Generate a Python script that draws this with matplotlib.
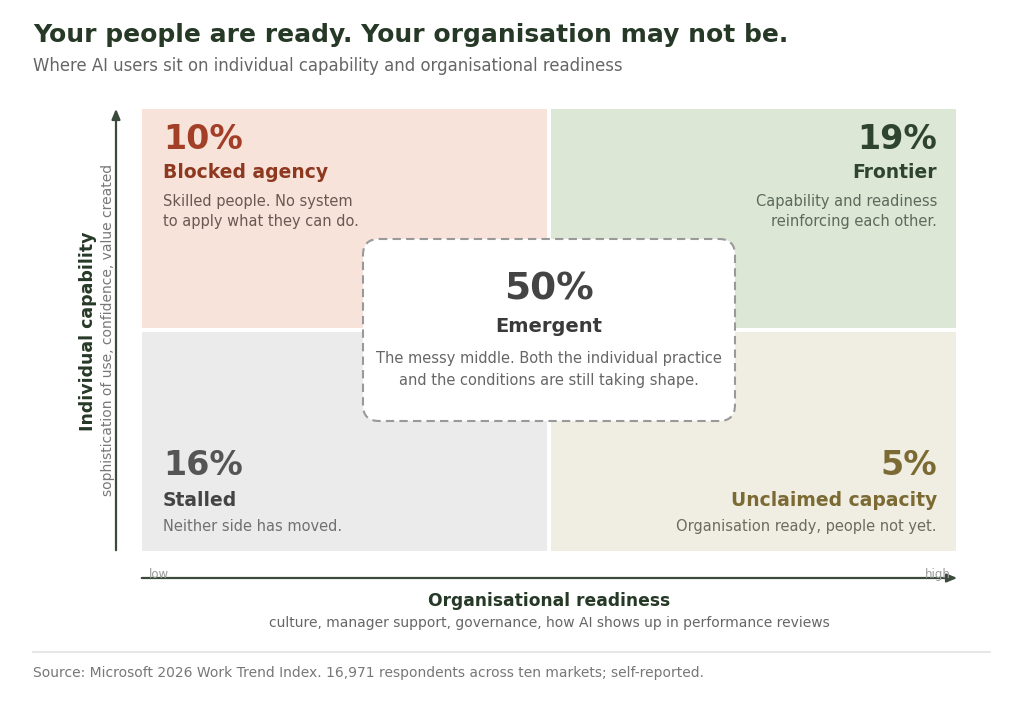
import matplotlib
matplotlib.use("Agg")
import matplotlib.pyplot as plt
from matplotlib.patches import Rectangle, FancyBboxPatch

plt.rcParams['font.family'] = ['DejaVu Sans']

# ---------------- data ----------------
title = "Your people are ready. Your organisation may not be."
subtitle = "Where AI users sit on individual capability and organisational readiness"
source = "Source: Microsoft 2026 Work Trend Index. 16,971 respondents across ten markets; self-reported."

quad_names = ["Blocked agency", "Frontier", "Stalled", "Unclaimed capacity"]
quad_pct = [10, 19, 16, 5]
quad_desc = [["Skilled people. No system", "to apply what they can do."],
             ["Capability and readiness", "reinforcing each other."],
             ["Neither side has moved."],
             ["Organisation ready, people not yet."]]
quad_col = [0, 1, 0, 1]   # organisational readiness: 0 low, 1 high
quad_row = [1, 1, 0, 0]   # individual capability: 0 low, 1 high
quad_fill = ["#F7E3DA", "#DCE7D6", "#EBEBEB", "#F0EDE2"]
quad_pct_color = ["#A23F26", "#2E4430", "#555555", "#7B6A33"]
quad_name_color = ["#8E3820", "#2E4430", "#444444", "#7B6A33"]
quad_desc_color = ["#6E5650", "#5C6A5C", "#707070", "#6E6A5E"]

center_name = "Emergent"
center_pct = 50
center_desc = ["The messy middle. Both the individual practice",
               "and the conditions are still taking shape."]

x_label = "Organisational readiness"
x_sub = "culture, manager support, governance, how AI shows up in performance reviews"
y_label = "Individual capability"
y_sub = "sophistication of use, confidence, value created"
x_ticks = ["low", "high"]

# ---------------- layout ----------------
W, H = 1024, 702
fig = plt.figure(figsize=(W / 100, H / 100), dpi=100)
ax = fig.add_axes([0, 0, 1, 1])
ax.set_xlim(0, W)
ax.set_ylim(H, 0)
ax.axis("off")

dark = "#263826"
axis_col = "#3C4A3C"

ax.text(33, 42, title, fontsize=18, fontweight="bold", color=dark, va="baseline", ha="left")
ax.text(33, 71, subtitle, fontsize=11.9, color="#666666", va="baseline", ha="left")

# quadrant grid
gx0, gx1, gy_top, gy_bot, gap = 142, 956, 109, 551, 4
cw = (gx1 - gx0 - gap) / 2
ch = (gy_bot - gy_top - gap) / 2

for name, pct, desc, c, r, fc, pc, nc, dc in zip(quad_names, quad_pct, quad_desc, quad_col, quad_row,
                                                  quad_fill, quad_pct_color, quad_name_color, quad_desc_color):
    x0 = gx0 + c * (cw + gap)
    y0 = gy_top + (1 - r) * (ch + gap)
    ax.add_patch(Rectangle((x0, y0), cw, ch, facecolor=fc, edgecolor="none", zorder=1))
    if c == 0:
        tx, ha = x0 + 21, "left"
    else:
        tx, ha = x0 + cw - 19, "right"
    if r == 1:
        yb, dn, dd = y0 + 40, 29, 57
    else:
        yb, dn, dd = y0 + 143, 31, 56
    ax.text(tx, yb, f"{pct}%", fontsize=24, fontweight="bold", color=pc, ha=ha, va="baseline", zorder=3)
    ax.text(tx, yb + dn, name, fontsize=13.5, fontweight="bold", color=nc, ha=ha, va="baseline", zorder=3)
    for i, line in enumerate(desc):
        ax.text(tx, yb + dd + 20 * i, line, fontsize=10.5, color=dc, ha=ha, va="baseline", zorder=3)

# center box
bx0, bx1, by0, by1 = 363, 735, 239, 421
box = FancyBboxPatch((bx0, by0), bx1 - bx0, by1 - by0,
                     boxstyle="round,pad=0,rounding_size=16",
                     facecolor="white", edgecolor="#999999", linewidth=1.5,
                     linestyle=(0, (4, 2.5)), zorder=4)
ax.add_patch(box)
cx = (bx0 + bx1) / 2
ax.text(cx, 300, f"{center_pct}%", fontsize=27, fontweight="bold", color="#444444",
        ha="center", va="baseline", zorder=5)
ax.text(cx, 332, center_name, fontsize=14, fontweight="bold", color="#3A3A3A",
        ha="center", va="baseline", zorder=5)
for i, line in enumerate(center_desc):
    ax.text(cx, 363 + 22 * i, line, fontsize=10.5, color="#666666", ha="center", va="baseline", zorder=5)

# axes arrows
ax.annotate("", xy=(116, 106), xytext=(116, 553),
            arrowprops=dict(arrowstyle="-|>,head_length=0.6,head_width=0.25", color=axis_col, lw=1.6))
ax.annotate("", xy=(960, 578), xytext=(139, 578),
            arrowprops=dict(arrowstyle="-|>,head_length=0.6,head_width=0.25", color=axis_col, lw=1.6))
ax.text(149, 578, x_ticks[0], fontsize=8.5, color="#9A9A9A", ha="left", va="baseline")
ax.text(951, 578, x_ticks[1], fontsize=8.5, color="#9A9A9A", ha="right", va="baseline")

ax.text(549, 606, x_label, fontsize=12.3, fontweight="bold", color=dark, ha="center", va="baseline")
ax.text(549, 627, x_sub, fontsize=10, color="#666666", ha="center", va="baseline")

ax.text(88, 331, y_label, fontsize=12.5, fontweight="bold", color=dark, ha="center", va="center", rotation=90)
ax.text(108, 330, y_sub, fontsize=10, color="#777777", ha="center", va="center", rotation=90)

# separator and source
ax.plot([33, 990], [652, 652], color="#E2E2E2", lw=1.2)
ax.text(33, 677, source, fontsize=10, color="#777777", ha="left", va="baseline")

fig.savefig("out.png", dpi=100, facecolor="white")
